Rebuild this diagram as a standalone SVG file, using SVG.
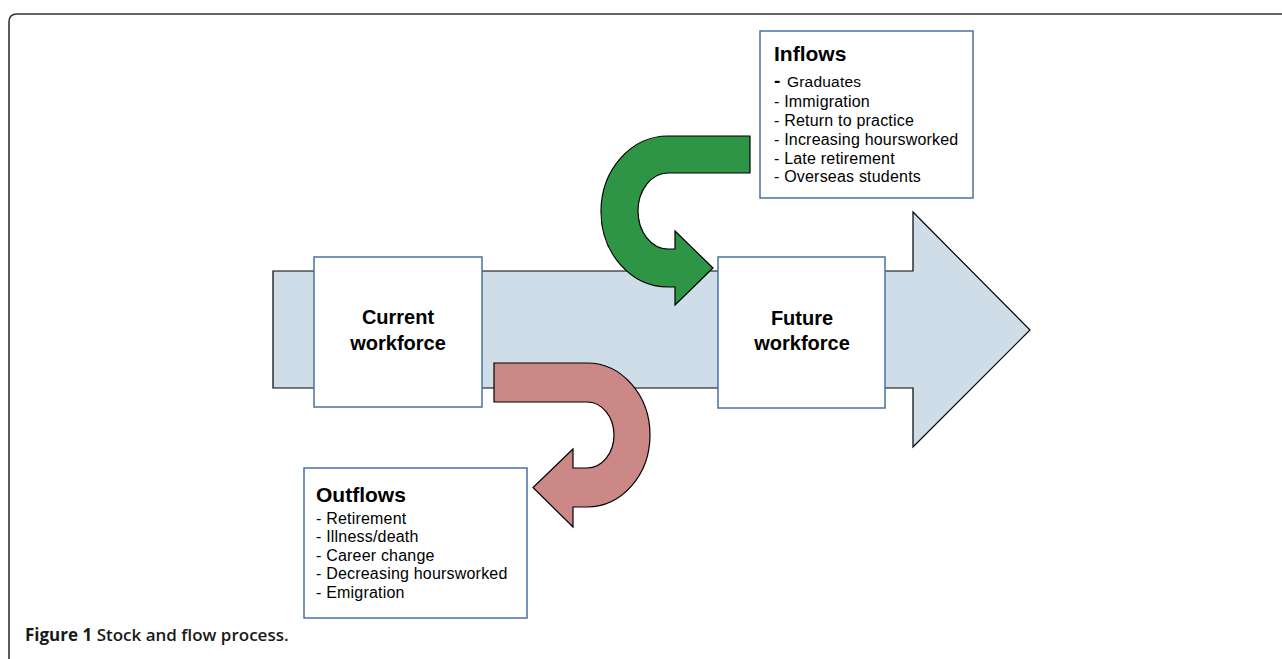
<svg xmlns="http://www.w3.org/2000/svg" width="1282" height="659" viewBox="0 0 1282 659">
<style>
.box{fill:#fff;stroke:#4a72a2;stroke-width:1.5}
.arrow{stroke:#000;stroke-width:1.2;stroke-linejoin:miter}
.big{font-family:"Liberation Sans",Arial,sans-serif;font-weight:bold;font-size:20px;fill:#000;text-anchor:middle}
.title{font-family:"Liberation Sans",Arial,sans-serif;font-weight:bold;font-size:21px;fill:#000}
.item{font-family:"Liberation Sans",Arial,sans-serif;font-size:16px;fill:#000;letter-spacing:0.2px}
.cap{font-family:"Open Sans","Noto Sans","Liberation Sans",sans-serif;font-size:17px;fill:#1a1a1a}
</style>
<rect width="1282" height="659" fill="#fff"/>
<path d="M9,700 L9,22 Q9,14 17,14 L1300,14" fill="none" stroke="#333" stroke-width="1.6"/>
<g id="connectors">
<path id="main-flow" class="arrow" fill="#cfdde8" d="M273,271 L913,271 L913,212 L1030,330 L913,447 L913,388 L273,388 Z"/>
<path id="inflow-arrow" class="arrow" fill="#2e9446" d="M750,136 L668,136 A67,75.5 0 0 0 668,287 L675,287 L675,305 L713,268 L675,231 L675,249 L668,249 A30,38 0 0 1 668,173 L750,173 Z"/>
<path id="outflow-arrow" class="arrow" fill="#cc8787" d="M494,363 L587,363 A63,72 0 0 1 587,507 L573,507 L573,527 L533,487.5 L573,449 L573,468 L587,468 A27,33 0 0 0 587,402 L494,402 Z"/>
</g>
<g id="node-current">
<rect class="box" x="314" y="257" width="168" height="150"/>
<text class="big" x="398" y="324">Current</text>
<text class="big" x="398" y="350">workforce</text>
</g>
<g id="node-future">
<rect class="box" x="718" y="257" width="167" height="151"/>
<text class="big" x="802" y="325">Future</text>
<text class="big" x="802" y="350">workforce</text>
</g>
<g id="node-inflows">
<rect class="box" x="760" y="31" width="213" height="167"/>
<text class="title" x="774" y="61">Inflows</text>
<text class="item" x="774" y="87"><tspan font-size="19px" font-weight="bold">-</tspan><tspan x="787" font-size="15.5px">Graduates</tspan></text>
<text class="item" x="774" y="107">- Immigration</text>
<text class="item" x="774" y="126">- Return to practice</text>
<text class="item" x="774" y="145">- Increasing hoursworked</text>
<text class="item" x="774" y="164">- Late retirement</text>
<text class="item" x="774" y="182">- Overseas students</text>
</g>
<g id="node-outflows">
<rect class="box" x="304" y="468" width="223" height="150"/>
<text class="title" x="316" y="502">Outflows</text>
<text class="item" x="316" y="524">- Retirement</text>
<text class="item" x="316" y="542">- Illness/death</text>
<text class="item" x="316" y="561">- Career change</text>
<text class="item" x="316" y="579">- Decreasing hoursworked</text>
<text class="item" x="316" y="598">- Emigration</text>
</g>
<text class="cap" x="25" y="641"><tspan font-weight="bold">Figure 1</tspan> <tspan font-weight="600">Stock and flow process.</tspan></text>
</svg>
